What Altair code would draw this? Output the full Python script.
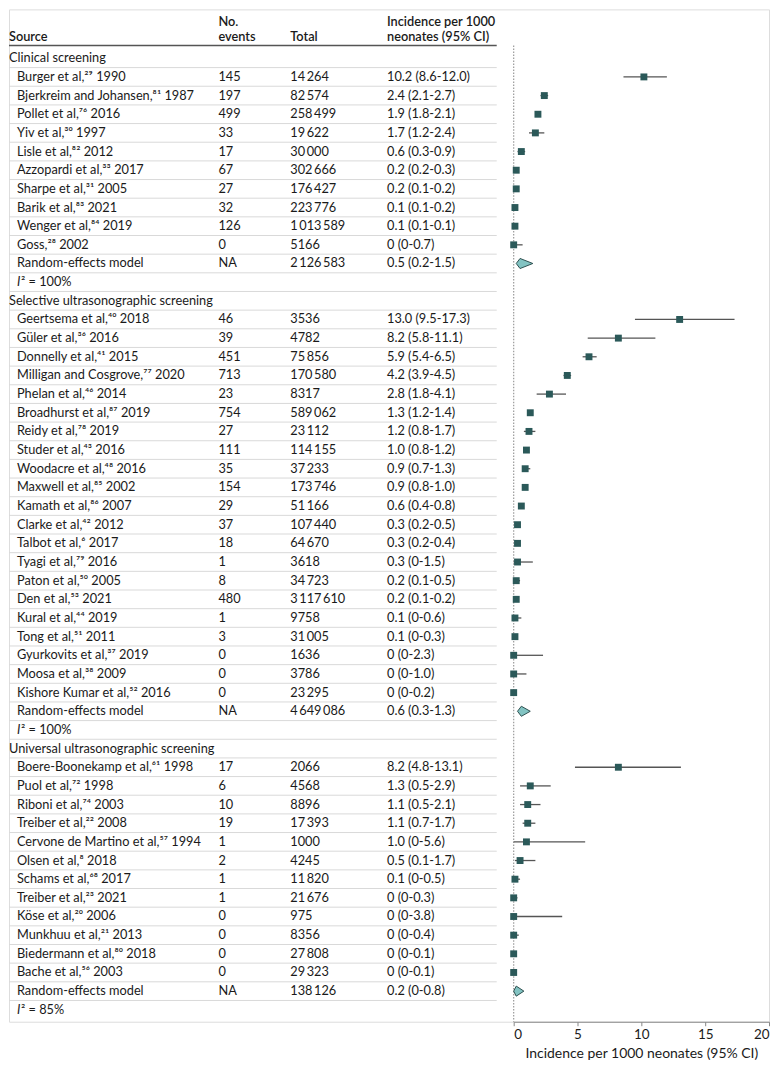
import altair as alt
import pandas as pd

# ---------------- data ----------------
sections = ["Clinical screening", "Selective ultrasonographic screening", "Universal ultrasonographic screening"]

clin_names = ["Burger et al,²⁹ 1990", "Bjerkreim and Johansen,⁸¹ 1987", "Pollet et al,⁷⁶ 2016",
              "Yiv et al,³⁰ 1997", "Lisle et al,⁸² 2012", "Azzopardi et al,³³ 2017",
              "Sharpe et al,³¹ 2005", "Barik et al,⁸³ 2021", "Wenger et al,⁸⁴ 2019", "Goss,²⁸ 2002"]
clin_events = [145, 197, 499, 33, 17, 67, 27, 32, 126, 0]
clin_totals = [14264, 82574, 258499, 19622, 30000, 302666, 176427, 223776, 1013589, 5166]
clin_est = [10.2, 2.4, 1.9, 1.7, 0.6, 0.2, 0.2, 0.1, 0.1, 0]
clin_lo = [8.6, 2.1, 1.8, 1.2, 0.3, 0.2, 0.1, 0.1, 0.1, 0]
clin_hi = [12.0, 2.7, 2.1, 2.4, 0.9, 0.3, 0.2, 0.2, 0.1, 0.7]
clin_pooled = [2126583, 0.5, 0.2, 1.5]
clin_i2 = "100%"

sel_names = ["Geertsema et al,⁴⁰ 2018", "Güler et al,³⁶ 2016", "Donnelly et al,⁴¹ 2015",
             "Milligan and Cosgrove,⁷⁷ 2020", "Phelan et al,⁴⁶ 2014", "Broadhurst et al,⁸⁷ 2019",
             "Reidy et al,⁷⁸ 2019", "Studer et al,⁴³ 2016", "Woodacre et al,⁴⁸ 2016",
             "Maxwell et al,⁸⁵ 2002", "Kamath et al,⁸⁶ 2007", "Clarke et al,⁴² 2012",
             "Talbot et al,⁶ 2017", "Tyagi et al,⁷⁹ 2016", "Paton et al,⁵⁰ 2005",
             "Den et al,⁵³ 2021", "Kural et al,⁴⁴ 2019", "Tong et al,⁵¹ 2011",
             "Gyurkovits et al,³⁷ 2019", "Moosa et al,³⁸ 2009", "Kishore Kumar et al,⁵² 2016"]
sel_events = [46, 39, 451, 713, 23, 754, 27, 111, 35, 154, 29, 37, 18, 1, 8, 480, 1, 3, 0, 0, 0]
sel_totals = [3536, 4782, 75856, 170580, 8317, 589062, 23112, 114155, 37233, 173746, 51166,
              107440, 64670, 3618, 34723, 3117610, 9758, 31005, 1636, 3786, 23295]
sel_est = [13.0, 8.2, 5.9, 4.2, 2.8, 1.3, 1.2, 1.0, 0.9, 0.9, 0.6, 0.3, 0.3, 0.3, 0.2, 0.2, 0.1, 0.1, 0, 0, 0]
sel_lo = [9.5, 5.8, 5.4, 3.9, 1.8, 1.2, 0.8, 0.8, 0.7, 0.8, 0.4, 0.2, 0.2, 0, 0.1, 0.1, 0, 0, 0, 0, 0]
sel_hi = [17.3, 11.1, 6.5, 4.5, 4.1, 1.4, 1.7, 1.2, 1.3, 1.0, 0.8, 0.5, 0.4, 1.5, 0.5, 0.2, 0.6, 0.3, 2.3, 1.0, 0.2]
sel_pooled = [4649086, 0.6, 0.3, 1.3]
sel_i2 = "100%"

uni_names = ["Boere-Boonekamp et al,⁶¹ 1998", "Puol et al,⁷² 1998", "Riboni et al,⁷⁴ 2003",
             "Treiber et al,²² 2008", "Cervone de Martino et al,⁵⁷ 1994", "Olsen et al,⁸ 2018",
             "Schams et al,⁶⁸ 2017", "Treiber et al,²³ 2021", "Köse et al,²⁰ 2006",
             "Munkhuu et al,²¹ 2013", "Biedermann et al,⁸⁰ 2018", "Bache et al,⁵⁶ 2003"]
uni_events = [17, 6, 10, 19, 1, 2, 1, 1, 0, 0, 0, 0]
uni_totals = [2066, 4568, 8896, 17393, 1000, 4245, 11820, 21676, 975, 8356, 27808, 29323]
uni_est = [8.2, 1.3, 1.1, 1.1, 1.0, 0.5, 0.1, 0, 0, 0, 0, 0]
uni_lo = [4.8, 0.5, 0.5, 0.7, 0, 0.1, 0, 0, 0, 0, 0, 0]
uni_hi = [13.1, 2.9, 2.1, 1.7, 5.6, 1.7, 0.5, 0.3, 3.8, 0.4, 0.1, 0.1]
uni_pooled = [138126, 0.2, 0, 0.8]
uni_i2 = "85%"

axis_ticks = [0, 5, 10, 15, 20]


def fnum(v):
    return "0" if v == 0 else f"{v:.1f}"


def ftot(n):
    s = str(n)
    if n < 10000:
        return s
    parts = []
    while s:
        parts.insert(0, s[-3:])
        s = s[:-3]
    return "\u2009".join(parts)


groups = [
    (sections[0], clin_names, clin_events, clin_totals, clin_est, clin_lo, clin_hi, clin_pooled, clin_i2),
    (sections[1], sel_names, sel_events, sel_totals, sel_est, sel_lo, sel_hi, sel_pooled, sel_i2),
    (sections[2], uni_names, uni_events, uni_totals, uni_est, uni_lo, uni_hi, uni_pooled, uni_i2),
]

rows = []
diamonds = []
r = 0
for sec, names, ev, tot, est, lo, hi, pooled, i2 in groups:
    rows.append(dict(row=r, kind="section", label=sec))
    r += 1
    for n, e, t, m, l, h in zip(names, ev, tot, est, lo, hi):
        rows.append(dict(row=r, kind="study", label=n, events=str(e), total=ftot(t),
                         ci=f"{fnum(m)} ({fnum(l)}-{fnum(h)})", est=m, lo=l, hi=h))
        r += 1
    pt, pm, pl, ph = pooled
    rows.append(dict(row=r, kind="pooled", label="Random-effects model", events="NA",
                     total=ftot(pt), ci=f"{fnum(pm)} ({fnum(pl)}-{fnum(ph)})"))
    half = 0.27
    diamonds += [dict(g=r, x=pl, y=r, y2=r), dict(g=r, x=pm, y=r - half, y2=r + half),
                 dict(g=r, x=ph, y=r, y2=r)]
    r += 1
    rows.append(dict(row=r, kind="i2", label="² = " + i2))
    r += 1

nrows = r
df = pd.DataFrame(rows)
studies = df[df.kind == "study"]
ddf = pd.DataFrame(diamonds)
seps = pd.DataFrame({"y": [i + 0.5 for i in range(nrows - 1)]})

header = pd.DataFrame([
    dict(t="Source", col="src", line=1),
    dict(t="No.", col="ev", line=0), dict(t="events", col="ev", line=1),
    dict(t="Total", col="tot", line=1),
    dict(t="Incidence per 1000", col="ci", line=0), dict(t="neonates (95% CI)", col="ci", line=1),
])
header["y"] = header["line"].map({0: -1.95, 1: -1.13})

FONT = "Lato"
FS = 12.8
TXT = "#1a1a1a"
top_line = -0.68
ydom = [-2.62, nrows - 0.36]

yscale = alt.Scale(domain=ydom, reverse=True, nice=False, zero=False)
xscale = alt.Scale(domain=[0, 20], range=[506, 762], nice=False, zero=False)

Y = lambda f: alt.Y(f, type="quantitative", scale=yscale, axis=None)

base_text = dict(font=FONT, fontSize=FS, color=TXT, align="left", baseline="middle")

col_x = {"src": 0, "ev": 210, "tot": 282, "ci": 379}

layers = []

# separators
layers.append(alt.Chart(seps).mark_rule(color="#d9d9d9", strokeWidth=1).encode(
    x=alt.value(0), x2=alt.value(489), y=Y("y")))
# header line
layers.append(alt.Chart(pd.DataFrame({"y": [top_line]})).mark_rule(color="#555555", strokeWidth=1.5).encode(
    x=alt.value(0), x2=alt.value(489), y=Y("y")))

# header text
for c, xv in col_x.items():
    layers.append(alt.Chart(header).transform_filter(alt.datum.col == c).mark_text(
        fontWeight=600, **base_text).encode(x=alt.value(xv), y=Y("y"), text="t:N"))

# section labels
layers.append(alt.Chart(df).transform_filter(alt.datum.kind == "section").mark_text(**base_text).encode(
    x=alt.value(0), y=Y("row"), text="label:N"))
# study / pooled labels
layers.append(alt.Chart(df).transform_filter("datum.kind == 'study' || datum.kind == 'pooled'").mark_text(
    **base_text).encode(x=alt.value(8), y=Y("row"), text="label:N"))
# I^2 rows
layers.append(alt.Chart(df).transform_filter(alt.datum.kind == "i2").mark_text(
    fontStyle="italic", **base_text).encode(x=alt.value(8), y=Y("row"), text=alt.value("I")))
layers.append(alt.Chart(df).transform_filter(alt.datum.kind == "i2").mark_text(**base_text).encode(
    x=alt.value(12), y=Y("row"), text="label:N"))

for field, c in [("events", "ev"), ("total", "tot"), ("ci", "ci")]:
    layers.append(alt.Chart(df).transform_filter("datum.kind == 'study' || datum.kind == 'pooled'").mark_text(
        **base_text).encode(x=alt.value(col_x[c]), y=Y("row"), text=f"{field}:N"))

# zero reference line
zl = pd.DataFrame({"x": [0], "y": [top_line], "y2": [ydom[1]]})
layers.append(alt.Chart(zl).mark_rule(color="#9a9a9a", strokeDash=[1.5, 1.5], strokeWidth=1.2).encode(
    x=alt.X("x:Q", scale=xscale), y=Y("y"), y2="y2"))

# CI lines
layers.append(alt.Chart(studies).mark_rule(color="#555555", strokeWidth=1.3).encode(
    x=alt.X("lo:Q", scale=xscale,
            axis=alt.Axis(values=axis_ticks, title="Incidence per 1000 neonates (95% CI)", grid=False,
                          domainColor="#888888", tickColor="#888888", tickSize=4, labelPadding=2,
                          labelFont=FONT, labelFontSize=13.5, labelColor=TXT, titleFont=FONT,
                          titleFontSize=14, titleFontWeight="normal", titleColor=TXT, titlePadding=5)),
    x2="hi:Q", y=Y("row")))
# squares
layers.append(alt.Chart(studies).mark_square(size=48, color="#2b5959", opacity=1).encode(
    x=alt.X("est:Q", scale=xscale), y=Y("row")))
# diamonds
layers.append(alt.Chart(ddf).mark_area(fill="#82c3c2", stroke="#2e4f4f", strokeWidth=1, orient="vertical").encode(
    x=alt.X("x:Q", scale=xscale), y=Y("y"), y2="y2", detail="g:N"))

chart = alt.layer(*layers).properties(
    width=762, height=1015, padding={"left": 0, "top": 0, "right": 2, "bottom": 4}
).configure_view(stroke=None).configure(background="white")

chart.save("out.html", embed_options={"renderer": "svg", "actions": False})
